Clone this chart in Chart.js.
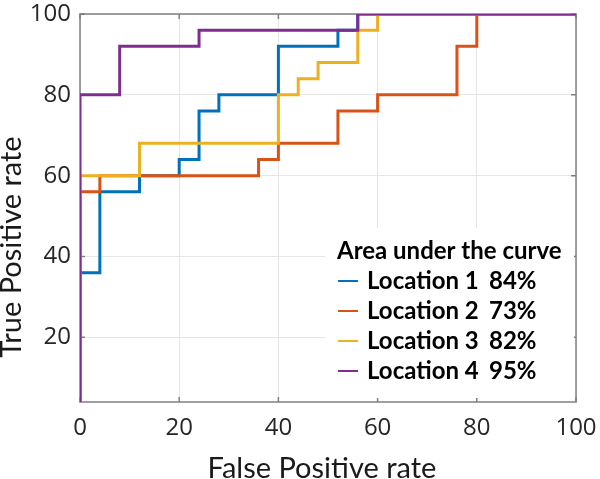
<!DOCTYPE html>
<html><head><meta charset="utf-8">
<script src="https://cdn.jsdelivr.net/npm/chart.js@4/dist/chart.umd.min.js"></script>
<style>html,body{margin:0;padding:0;background:#fff;}canvas{display:block;}</style>
</head><body>
<canvas id="c" width="600" height="479"></canvas>
<script>
const seriesNames = ['Location 1', 'Location 2', 'Location 3', 'Location 4'];
const aucValues = ['84%', '73%', '82%', '95%'];
const legendTitle = 'Area under the curve';
const xTitle = 'False Positive rate';
const yTitle = 'True Positive rate';
const xTickValues = [0, 20, 40, 60, 80, 100];
const yTickValues = [20, 40, 60, 80, 100];

const loc1FPR = [0, 0, 4, 12, 20, 24, 28, 40, 52, 56, 100];
const loc1TPR = [0, 36, 56, 60, 64, 76, 80, 92, 96, 100, 100];
const loc2FPR = [0, 0, 4, 36, 40, 52, 60, 76, 80, 100];
const loc2TPR = [0, 56, 60, 64, 68, 76, 80, 92, 100, 100];
const loc3FPR = [0, 0, 12, 40, 44, 48, 56, 60, 100];
const loc3TPR = [0, 60, 68, 80, 84, 88, 96, 100, 100];
const loc4FPR = [0, 0, 8, 24, 56, 100];
const loc4TPR = [0, 80, 92, 96, 100, 100];

const seriesColors = ['#0072BD', '#D95319', '#EDB120', '#7E2F8E'];

const fprs = [loc1FPR, loc2FPR, loc3FPR, loc4FPR];
const tprs = [loc1TPR, loc2TPR, loc3TPR, loc4TPR];

const datasets = seriesNames.map((name, k) => ({
  label: name,
  data: fprs[k].map((x, i) => ({ x: x, y: tprs[k][i] })),
  borderColor: seriesColors[k],
  backgroundColor: seriesColors[k],
  borderWidth: 3,
  pointRadius: 0,
  stepped: true,
  fill: false,
  order: 4 - k
}));

const tickFont = { family: '"Open Sans", sans-serif', size: 24 };
const titleFont = '29px Lato, "Open Sans", sans-serif';
const legendFont = 'bold 24px Lato, "Open Sans", sans-serif';

const framePlugin = {
  id: 'frame',
  beforeDatasetsDraw(chart) {
    const { ctx, chartArea: a, scales } = chart;
    ctx.save();
    ctx.strokeStyle = '#808080';
    ctx.lineWidth = 1.5;
    ctx.strokeRect(a.left, a.top, a.right - a.left, a.bottom - a.top);
    ctx.beginPath();
    const L = 5;
    xTickValues.forEach(v => {
      const px = scales.x.getPixelForValue(v);
      ctx.moveTo(px, a.bottom); ctx.lineTo(px, a.bottom - L);
      ctx.moveTo(px, a.top); ctx.lineTo(px, a.top + L);
    });
    yTickValues.forEach(v => {
      const py = scales.y.getPixelForValue(v);
      ctx.moveTo(a.left, py); ctx.lineTo(a.left + L, py);
      ctx.moveTo(a.right, py); ctx.lineTo(a.right - L, py);
    });
    ctx.stroke();
    ctx.restore();
  }
};

const legendPlugin = {
  id: 'aucLegend',
  afterDatasetsDraw(chart) {
    const { ctx, chartArea: a } = chart;
    ctx.save();
    const bx = a.right - 251, by = a.top + 214;
    ctx.fillStyle = '#ffffff';
    ctx.fillRect(bx, by, a.right - 2 - bx, a.bottom - 4 - by);
    ctx.font = legendFont;
    ctx.fillStyle = '#000000';
    ctx.textBaseline = 'alphabetic';
    ctx.textAlign = 'left';
    const x0 = bx + 12;
    const base0 = by + 31;
    ctx.fillText(legendTitle, x0, base0);
    seriesNames.forEach((name, k) => {
      const bl = base0 + 30 * (k + 1);
      ctx.strokeStyle = seriesColors[k];
      ctx.lineWidth = 2;
      ctx.beginPath();
      ctx.moveTo(x0 + 1, bl - 8);
      ctx.lineTo(x0 + 21, bl - 8);
      ctx.stroke();
      ctx.fillStyle = '#000000';
      ctx.fillText(name, x0 + 30, bl);
      ctx.fillText(aucValues[k], x0 + 152, bl);
    });
    ctx.restore();
  }
};

const titlePlugin = {
  id: 'axisTitles',
  afterDraw(chart) {
    const { ctx, chartArea: a } = chart;
    ctx.save();
    ctx.font = titleFont;
    ctx.fillStyle = '#1a1a1a';
    ctx.textAlign = 'center';
    ctx.textBaseline = 'alphabetic';
    ctx.fillText(xTitle, (a.left + a.right) / 2 - 6, 478);
    ctx.translate(21, 247);
    ctx.rotate(-Math.PI / 2);
    ctx.fillText(yTitle, 0, 0);
    ctx.restore();
  }
};

function noOverhang(s) {
  s.paddingTop = 0; s.paddingBottom = 0; s.paddingLeft = 0; s.paddingRight = 0;
}

new Chart(document.getElementById('c'), {
  type: 'line',
  data: { datasets: datasets },
  options: {
    responsive: false,
    animation: false,
    devicePixelRatio: 1,
    layout: { padding: { top: 14, right: 24, left: 0, bottom: 0 } },
    plugins: { legend: { display: false }, tooltip: { enabled: false } },
    scales: {
      x: {
        type: 'linear',
        min: 0, max: 100,
        afterBuildTicks: s => { s.ticks = xTickValues.map(v => ({ value: v })); },
        afterFit: s => { s.height = 77; noOverhang(s); },
        grid: { color: '#e6e6e6', lineWidth: 1, drawTicks: false },
        border: { display: false },
        ticks: { font: tickFont, color: '#262626', padding: 12, maxRotation: 0 }
      },
      y: {
        type: 'linear',
        min: 4, max: 100,
        afterBuildTicks: s => { s.ticks = yTickValues.map(v => ({ value: v })); },
        afterFit: s => { s.width = 80; noOverhang(s); },
        grid: { color: '#e6e6e6', lineWidth: 1, drawTicks: false },
        border: { display: false },
        ticks: { font: tickFont, color: '#262626', padding: 9 }
      }
    }
  },
  plugins: [framePlugin, legendPlugin, titlePlugin]
});
</script>
</body></html>
